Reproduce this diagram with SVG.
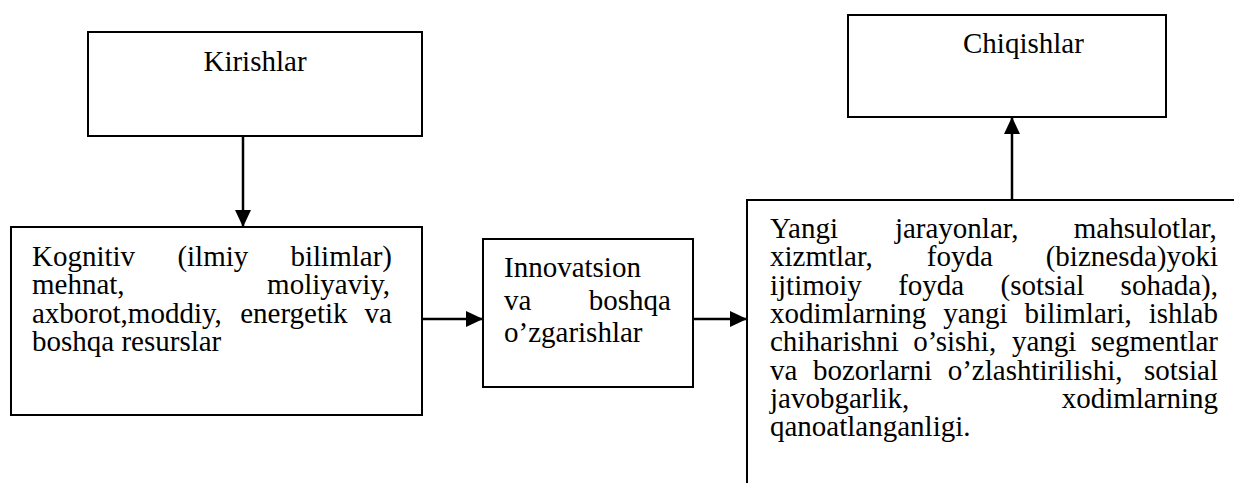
<svg xmlns="http://www.w3.org/2000/svg" width="1234" height="483" viewBox="0 0 1234 483">
<style>
.box{fill:#fff;stroke:#000;stroke-width:2}
.t{font-family:"Liberation Serif","Times New Roman",serif;font-size:29px;fill:#000}
.c{stroke:#000;stroke-width:2.5;fill:none}
</style>
<defs>
<marker id="ah" markerUnits="userSpaceOnUse" markerWidth="17" markerHeight="16" refX="17" refY="8" orient="auto">
<path d="M0,0 L17,8 L0,16 z" fill="#000"/>
</marker>
</defs>
<rect width="1234" height="483" fill="#fff"/>
<g id="connectors">
<line class="c" x1="243" y1="136" x2="243" y2="227" marker-end="url(#ah)"/>
<line class="c" x1="422" y1="319" x2="483" y2="319" marker-end="url(#ah)"/>
<line class="c" x1="693" y1="319" x2="747" y2="319" marker-end="url(#ah)"/>
<line class="c" x1="1012" y1="200" x2="1012" y2="117" marker-end="url(#ah)"/>
</g>
<g id="kirishlar">
<rect class="box" x="88" y="32" width="334" height="104"/>
<text class="t" x="255" y="71" text-anchor="middle">Kirishlar</text>
</g>
<g id="chiqishlar">
<rect class="box" x="848" y="15" width="318" height="102"/>
<text class="t" x="963" y="53">Chiqishlar</text>
</g>
<g id="kognitiv">
<rect class="box" x="11" y="227" width="411" height="188"/>
<text class="t" y="266"><tspan x="32">Kognitiv</tspan><tspan x="177.4">(ilmiy</tspan><tspan x="290.5">bilimlar)</tspan></text>
<text class="t" y="294.4"><tspan x="32">mehnat,</tspan><tspan x="267.1">moliyaviy,</tspan></text>
<text class="t" y="322.8"><tspan x="32">axborot,moddiy,</tspan><tspan x="240.2">energetik</tspan><tspan x="364.6">va</tspan></text>
<text class="t" x="32" y="351.2">boshqa resurslar</text>
</g>
<g id="innovatsion">
<rect class="box" x="483" y="239" width="210" height="148"/>
<text class="t" x="504" y="277">Innovatsion</text>
<text class="t" y="309.5"><tspan x="504">va</tspan><tspan x="588.8">boshqa</tspan></text>
<text class="t" x="504" y="342.3">o’zgarishlar</text>
</g>
<g id="natijalar">
<rect class="box" x="747" y="200" width="500" height="300"/>
<text class="t" y="238"><tspan x="770">Yangi</tspan><tspan x="894.9">jarayonlar,</tspan><tspan x="1073.8">mahsulotlar,</tspan></text>
<text class="t" y="266.3"><tspan x="770">xizmtlar,</tspan><tspan x="926.8">foyda</tspan><tspan x="1045.7">(biznesda)yoki</tspan></text>
<text class="t" y="294.6"><tspan x="770">ijtimoiy</tspan><tspan x="898.2">foyda</tspan><tspan x="1000.5">(sotsial</tspan><tspan x="1120.6">sohada),</tspan></text>
<text class="t" y="322.9"><tspan x="770">xodimlarning</tspan><tspan x="943.2">yangi</tspan><tspan x="1024.6">bilimlari,</tspan><tspan x="1148.7">ishlab</tspan></text>
<text class="t" y="351.2"><tspan x="770">chiharishni</tspan><tspan x="913.2">o’sishi,</tspan><tspan x="1012">yangi</tspan><tspan x="1090.8">segmentlar</tspan></text>
<text class="t" y="379.5"><tspan x="770">va</tspan><tspan x="812.9">bozorlarni</tspan><tspan x="947.7">o’zlashtirilishi,</tspan><tspan x="1143.9">sotsial</tspan></text>
<text class="t" y="407.8"><tspan x="770">javobgarlik,</tspan><tspan x="1061.7">xodimlarning</tspan></text>
<text class="t" x="770" y="436.1">qanoatlanganligi.</text>
</g>
</svg>
